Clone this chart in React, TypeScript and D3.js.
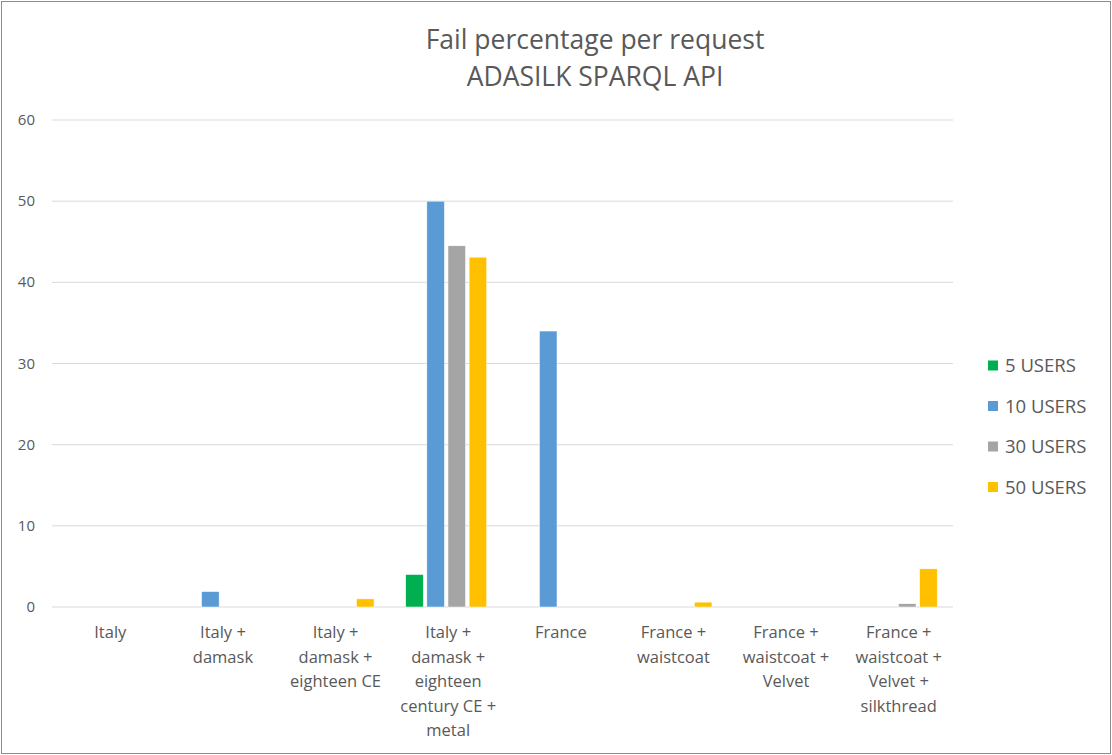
import React from "react";
import * as d3 from "d3";

const categories: string[][] = [
  ["Italy"],
  ["Italy +", "damask"],
  ["Italy +", "damask +", "eighteen CE"],
  ["Italy +", "damask +", "eighteen", "century CE +", "metal"],
  ["France"],
  ["France +", "waistcoat"],
  ["France +", "waistcoat +", "Velvet"],
  ["France +", "waistcoat +", "Velvet +", "silkthread"],
];
const seriesNames = ["5 USERS", "10 USERS", "30 USERS", "50 USERS"];
const seriesColors = ["#00b050", "#5b9bd5", "#a5a5a5", "#ffc000"];
const users5 = [0, 0, 0, 4, 0, 0, 0, 0];
const users10 = [0, 1.9, 0, 50, 34, 0, 0, 0];
const users30 = [0, 0, 0, 44.5, 0, 0, 0, 0.4];
const users50 = [0, 0, 1.0, 43.1, 0, 0.6, 0, 4.7];
const seriesValues = [users5, users10, users30, users50];
const yTicks = [0, 10, 20, 30, 40, 50, 60];

const W = 1112;
const H = 755;
const FONT = "'Open Sans', 'Liberation Sans', sans-serif";
const TXT = "#595959";

export default function App() {
  const x0 = d3
    .scaleBand<number>()
    .domain(categories.map((_, i) => i))
    .range([52, 953])
    .paddingInner(0)
    .paddingOuter(0);
  const groupW = 81;
  const x1 = d3
    .scaleBand<number>()
    .domain(seriesNames.map((_, i) => i))
    .range([0, groupW])
    .paddingInner(0.17)
    .paddingOuter(0);
  const y = d3.scaleLinear().domain([0, 60]).range([607, 120]);
  const off = (x0.bandwidth() - groupW) / 2;

  return (
    <svg
      width={W}
      height={H}
      style={{ position: "fixed", left: 0, top: 0, background: "#fff" }}
      fontFamily={FONT}
    >
      <rect x={1.5} y={1.5} width={W - 3} height={H - 3} fill="#fff" stroke="#8c8c8c" strokeWidth={1} />
      <text x={595} y={49} textAnchor="middle" fontSize={26.5} fill={TXT}>
        Fail percentage per request
      </text>
      <text x={595} y={86} textAnchor="middle" fontSize={26.5} fill={TXT}>
        ADASILK SPARQL API
      </text>
      {yTicks.map((t) => (
        <g key={t}>
          <line x1={52} x2={953} y1={y(t)} y2={y(t)} stroke="#d9d9d9" strokeWidth={1} />
          <text x={35} y={y(t) + 5} textAnchor="end" fontSize={15} fill={TXT}>
            {t}
          </text>
        </g>
      ))}
      {seriesValues.map((vals, s) =>
        vals.map((v, i) =>
          v > 0 ? (
            <rect
              key={`${s}-${i}`}
              x={(x0(i) as number) + off + (x1(s) as number)}
              y={y(v)}
              width={x1.bandwidth()}
              height={y(0) - y(v)}
              fill={seriesColors[s]}
              stroke="#fff"
              strokeWidth={0.5}
            />
          ) : null
        )
      )}
      {categories.map((lines, i) => {
        const cx = (x0(i) as number) + x0.bandwidth() / 2 + 2;
        return (
          <text key={i} x={cx} y={638} textAnchor="middle" fontSize={16.5} fill={TXT}>
            {lines.map((l, j) => (
              <tspan key={j} x={cx} dy={j === 0 ? 0 : 24.5}>
                {l}
              </tspan>
            ))}
          </text>
        );
      })}
      {seriesNames.map((n, s) => (
        <g key={n} transform={`translate(988, ${366 + s * 40.5})`}>
          <rect x={0} y={-5.5} width={10} height={10} fill={seriesColors[s]} />
          <text x={17} y={6} fontSize={18.5} fill={TXT}>
            {n}
          </text>
        </g>
      ))}
    </svg>
  );
}
